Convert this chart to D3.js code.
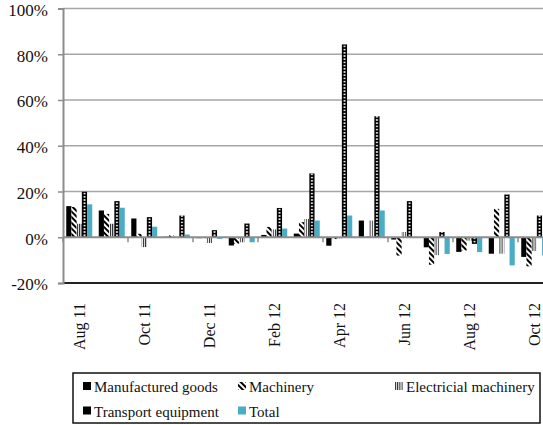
<!DOCTYPE html>
<html>
<head>
<meta charset="utf-8">
<script src="https://cdn.jsdelivr.net/npm/d3@7"></script>
<style>
  body { margin: 0; background: #fff; }
  svg { display: block; font-family: "Liberation Serif", "Times New Roman", serif; }
</style>
</head>
<body>
<svg width="543" height="425"></svg>
<script>
// monthly growth rates (%), Aug 2011 - Oct 2012
var months = ["Aug 11", "Sep 11", "Oct 11", "Nov 11", "Dec 11", "Jan 12", "Feb 12", "Mar 12",
              "Apr 12", "May 12", "Jun 12", "Jul 12", "Aug 12", "Sep 12", "Oct 12"];
var seriesNames = ["Manufactured goods", "Machinery", "Electricial machinery", "Transport equipment", "Total"];
var manufactured = [13.6, 11.7, 8.2, 0.2, -0.4, -3.6, 1.0, 1.6, -3.7, 7.3, -1.0, -4.4, -6.4, -7.2, -8.6];
var machinery    = [13.2, 10.2, 1.5, 0.8, -0.4, -2.8, 4.5, 6.6, -0.8, 0.3, -8.0, -12.0, -5.8, 12.4, -12.7];
var electrical   = [5.9, 5.9, -4.3, -0.3, -2.5, -2.2, 3.4, 8.0, -0.5, 7.3, 2.3, -7.8, -1.5, -7.2, -6.0];
var transport    = [19.9, 15.8, 8.8, 9.5, 3.1, 6.0, 12.8, 27.9, 84.3, 52.9, 15.8, 2.3, -2.9, 18.7, 9.5];
var total        = [14.4, 12.9, 4.6, 1.2, -0.7, -2.2, 3.8, 7.3, 9.5, 11.7, -0.3, -7.3, -6.5, -12.3, -7.9];
var yTicks = [-20, 0, 20, 40, 60, 80, 100];

var values = [manufactured, machinery, electrical, transport, total];
var fills = ["#000", "url(#hatch)", "url(#vstripe)", "url(#dots)", "#4bacc6"];

var svg = d3.select("svg");
var left = 63, step = 32.5;

var x = d3.scaleBand().domain(months)
    .range([left, left + step * months.length])
    .paddingInner(0.2).paddingOuter(0.1);
var xs = d3.scaleBand().domain(seriesNames).range([0, x.bandwidth()]);
var y = d3.scaleLinear().domain([-20, 100]).range([283, 8.5]);

// patterns
var defs = svg.append("defs");
var hatch = defs.append("pattern").attr("id", "hatch")
    .attr("patternUnits", "userSpaceOnUse").attr("width", 4).attr("height", 4)
    .attr("patternTransform", "rotate(-45)");
hatch.append("rect").attr("width", 4).attr("height", 4).attr("fill", "#fff");
hatch.append("rect").attr("width", 2).attr("height", 4).attr("fill", "#000");

var vs = defs.append("pattern").attr("id", "vstripe")
    .attr("patternUnits", "userSpaceOnUse").attr("width", 2.2).attr("height", 4);
vs.append("rect").attr("width", 2.2).attr("height", 4).attr("fill", "#fff");
vs.append("rect").attr("width", 1).attr("height", 4).attr("fill", "#222");

// dotted pattern aligned on the transport bars of each category
var dotX = x.step() * x.paddingOuter() + xs("Transport equipment") + xs.bandwidth() / 2;
var dots = defs.append("pattern").attr("id", "dots")
    .attr("patternUnits", "userSpaceOnUse").attr("x", left).attr("y", 0)
    .attr("width", x.step()).attr("height", 3.2);
dots.append("rect").attr("width", x.step()).attr("height", 3.2).attr("fill", "#000");
dots.append("rect").attr("x", dotX - 0.9).attr("y", 0.8).attr("width", 1.8).attr("height", 1.6).attr("fill", "#fff");

// gridlines
svg.append("g").selectAll("line")
  .data(yTicks.filter(function(d) { return d > 0; }))
  .enter().append("line")
    .attr("x1", left).attr("x2", 543)
    .attr("y1", function(d) { return y(d); })
    .attr("y2", function(d) { return y(d); })
    .attr("stroke", "#a6a6a6").attr("stroke-width", 1.5);

// bars
seriesNames.forEach(function(name, si) {
  svg.append("g").selectAll("rect")
    .data(values[si])
    .enter().append("rect")
      .attr("x", function(d, i) { return x(months[i]) + xs(name); })
      .attr("width", xs.bandwidth())
      .attr("y", function(d) { return y(Math.max(0, d)); })
      .attr("height", function(d) { return Math.abs(y(d) - y(0)); })
      .attr("fill", fills[si]);
});

// bottom border
svg.append("line")
    .attr("x1", left).attr("x2", 543)
    .attr("y1", y(-20)).attr("y2", y(-20))
    .attr("stroke", "#222").attr("stroke-width", 1.8);

// category axis at zero, ticks at every second boundary
svg.append("line")
    .attr("x1", left).attr("x2", 543)
    .attr("y1", y(0)).attr("y2", y(0))
    .attr("stroke", "#8c8c8c").attr("stroke-width", 2);
svg.append("g").selectAll("line")
  .data(months.filter(function(d, i) { return i % 2 == 0; }))
  .enter().append("line")
    .attr("x1", function(d) { return x(d) - x.step() * x.paddingInner() / 2; })
    .attr("x2", function(d) { return x(d) - x.step() * x.paddingInner() / 2; })
    .attr("y1", y(0)).attr("y2", y(0) + 5)
    .attr("stroke", "#8c8c8c").attr("stroke-width", 1.5);

svg.append("g").selectAll("text")
  .data(months.filter(function(d, i) { return i % 2 == 0; }))
  .enter().append("text")
    .attr("transform", function(d) {
      return "translate(" + (x(d) + x.bandwidth() / 2) + ",303) rotate(-90)";
    })
    .attr("dy", "0.35em")
    .attr("text-anchor", "end")
    .attr("font-size", 16)
    .attr("fill", "#111")
    .text(function(d) { return d; });

// value axis
var yAxis = svg.append("g")
    .attr("transform", "translate(" + left + ",0)")
    .call(d3.axisLeft(y).tickValues(yTicks).tickSize(5).tickPadding(10)
      .tickFormat(function(d) { return d + "%"; }))
    .attr("font-family", "Liberation Serif, Times New Roman, serif");
yAxis.select(".domain").attr("stroke", "#8c8c8c").attr("stroke-width", 2);
yAxis.selectAll(".tick line").attr("stroke", "#8c8c8c").attr("stroke-width", 1.5);
yAxis.selectAll(".tick text")
    .attr("font-size", 17).attr("fill", "#111").attr("dy", "0.4em");

// legend
var legendCols = [83, 238, 395];
var legendRows = [392, 416.5];
svg.append("rect")
    .attr("x", 73).attr("y", 373).attr("width", 467).attr("height", 50)
    .attr("fill", "none").attr("stroke", "#111").attr("stroke-width", 1.5);
var item = svg.append("g").selectAll("g")
  .data(seriesNames)
  .enter().append("g")
    .attr("transform", function(d, i) {
      return "translate(" + legendCols[i % 3] + "," + legendRows[Math.floor(i / 3)] + ")";
    });
item.append("rect")
    .attr("x", 0).attr("y", -10).attr("width", 8).attr("height", 8)
    .attr("fill", function(d, i) { return fills[i]; });
item.append("text")
    .attr("x", 11)
    .attr("font-size", 15).attr("fill", "#111")
    .text(function(d) { return d; });
</script>
</body>
</html>
